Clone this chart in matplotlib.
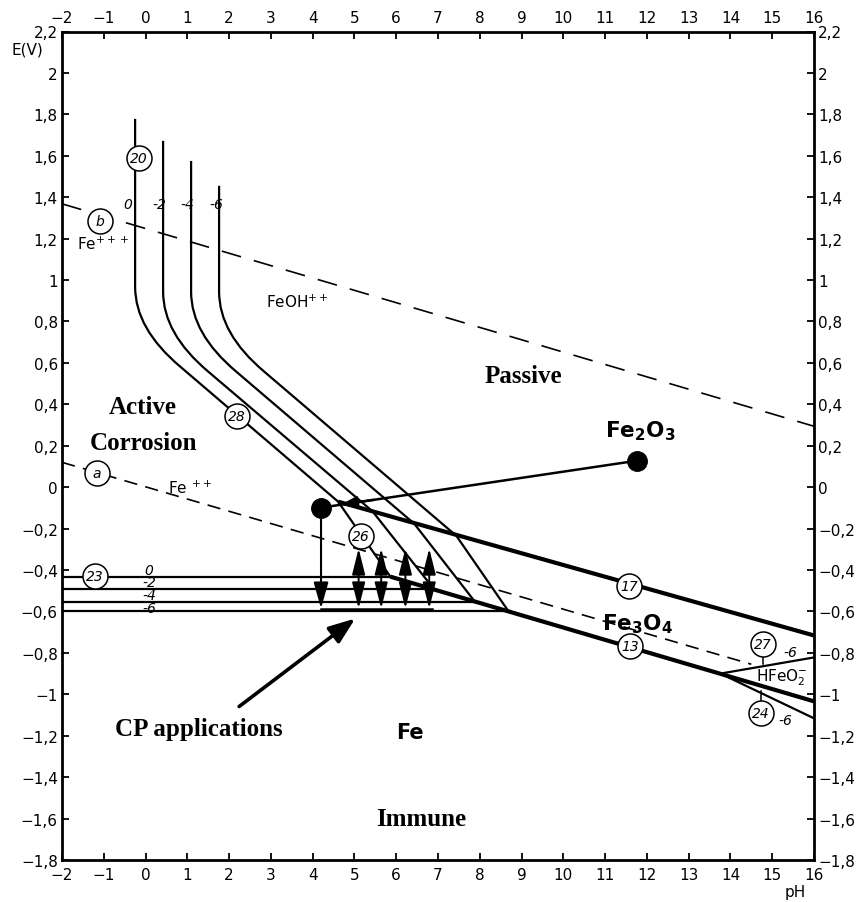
import matplotlib
matplotlib.use("Agg")
import matplotlib.pyplot as plt
from matplotlib.path import Path
from matplotlib.patches import PathPatch
from matplotlib.ticker import FixedLocator, FuncFormatter

plt.rcParams["font.family"] = ["DejaVu Sans"]
plt.rcParams["mathtext.fontset"] = "dejavusans"

# ---------------- data ----------------
PH_TICKS = [-2, -1, 0, 1, 2, 3, 4, 5, 6, 7, 8, 9, 10, 11, 12, 13, 14, 15, 16]
E_TICKS = [-1.8, -1.6, -1.4, -1.2, -1.0, -0.8, -0.6, -0.4, -0.2, 0.0,
           0.2, 0.4, 0.6, 0.8, 1.0, 1.2, 1.4, 1.6, 1.8, 2.0, 2.2]

# log concentration of dissolved iron for each family of curves
conc_labels = ["0", "-2", "-4", "-6"]

# line 20 (vertical part) then line 28 / 26 down to the Fe / Fe++ / Fe3O4 point
vert_ph = [-0.25, 0.42, 1.09, 1.76]
top_e = [1.778, 1.672, 1.575, 1.455]
bend_start_e = [0.967, 0.943, 0.943, 0.943]
corner_e = [0.765, 0.741, 0.741, 0.741]
bend_end_ph = [0.83, 1.50, 2.17, 2.84]
bend_end_e = [0.582, 0.558, 0.558, 0.558]
junction_ph = [4.61, 5.43, 6.43, 7.44]
junction_e = [-0.070, -0.116, -0.176, -0.235]
triple_ph = [5.86, 6.91, 7.88, 8.69]
triple_e = [-0.432, -0.494, -0.552, -0.600]

# line 23 : Fe / Fe++ (horizontal)
line23_e = [-0.432, -0.494, -0.552, -0.600]

# water lines a and b
line_a_ph = [-2.0, 14.5]
line_a_e = [0.12, -0.855]
line_b_ph = [-2.0, 16.0]
line_b_e = [1.368, 0.294]

# line 17 : Fe3O4 / Fe2O3, line 13 : Fe / Fe3O4
line17_ph = [4.61, 16.0]
line17_e = [-0.070, -0.716]
line13_ph = [5.86, 16.0]
line13_e = [-0.432, -1.034]
# lines 27 and 24 (HFeO2-, 10^-6)
line27_ph = [13.76, 16.0]
line27_e = [-0.900, -0.822]
line24_ph = [13.76, 16.0]
line24_e = [-0.900, -1.116]

# state points and cathodic protection arrows
fe2o3_pt = (11.77, 0.128)
fe_pt = (4.20, -0.099)
cp_level = -0.586
cp_bracket_end = 6.86
cp_arrow_ph = [5.10, 5.64, 6.22, 6.79]
cp_arrow_top = -0.296

# numbered circles on the lines
circ_names = ["20", "b", "28", "a", "23", "26", "17", "13", "27", "24"]
circ_ph = [-0.16, -1.09, 2.19, -1.16, -1.21, 5.16, 11.58, 11.60, 14.77, 14.72]
circ_e = [1.59, 1.286, 0.345, 0.070, -0.431, -0.234, -0.475, -0.769, -0.755, -1.092]

# ---------------- figure ----------------
fig = plt.figure(figsize=(8.59, 9.03), dpi=100)
ax = fig.add_axes([62 / 859, 42 / 903, 752 / 859, 828.5 / 903])
ax.set_xlim(-2, 16)
ax.set_ylim(-1.8, 2.2)

for sp in ax.spines.values():
    sp.set_linewidth(2.0)


def efmt(v, _):
    if abs(v) < 1e-9:
        return "0"
    s = f"{v:.1f}".rstrip("0").rstrip(".")
    return s.replace(".", ",").replace("-", "\u2212")


def phfmt(v, _):
    return f"{int(round(v))}".replace("-", "\u2212")


ax.xaxis.set_major_locator(FixedLocator(PH_TICKS))
ax.yaxis.set_major_locator(FixedLocator(E_TICKS))
ax.xaxis.set_major_formatter(FuncFormatter(phfmt))
ax.yaxis.set_major_formatter(FuncFormatter(efmt))
ax.tick_params(axis="both", direction="in", length=5, width=1.3,
               labelsize=11, top=True, right=True,
               labeltop=True, labelright=True)
ax.tick_params(axis="x", pad=5)
ax.tick_params(axis="y", pad=3)

# concentration curves (20 -> 28 -> 26)
for i in range(4):
    verts = [
        (vert_ph[i], top_e[i]),
        (vert_ph[i], bend_start_e[i]),
        (vert_ph[i], corner_e[i]),
        (bend_end_ph[i], bend_end_e[i]),
        (junction_ph[i], junction_e[i]),
        (triple_ph[i], triple_e[i]),
    ]
    codes = [Path.MOVETO, Path.LINETO, Path.CURVE3, Path.CURVE3,
             Path.LINETO, Path.LINETO]
    ax.add_patch(PathPatch(Path(verts, codes), fill=False, lw=1.6,
                           edgecolor="black", zorder=3))
    # line 23
    ax.plot([-2, triple_ph[i]], [line23_e[i], line23_e[i]], color="black",
            lw=1.6, zorder=3)

# dashed water lines
ax.plot(line_a_ph, line_a_e, color="black", lw=1.2, dashes=(8, 5), zorder=2)
ax.plot(line_b_ph, line_b_e, color="black", lw=1.2, dashes=(12, 8), zorder=2)

# oxide boundaries
ax.plot(line17_ph, line17_e, color="black", lw=3.0, zorder=3,
        solid_capstyle="butt")
ax.plot(line13_ph, line13_e, color="black", lw=3.0, zorder=3,
        solid_capstyle="butt")
ax.plot(line27_ph, line27_e, color="black", lw=1.6, zorder=3)
ax.plot(line24_ph, line24_e, color="black", lw=1.6, zorder=3)

# state points
ax.plot([fe2o3_pt[0], fe_pt[0]], [fe2o3_pt[1], fe_pt[1]], color="black",
        lw=1.8, zorder=4)
ax.plot(*fe2o3_pt, "o", color="black", ms=14, zorder=6)
ax.plot(*fe_pt, "o", color="black", ms=14, zorder=6)
slope = (fe2o3_pt[1] - fe_pt[1]) / (fe2o3_pt[0] - fe_pt[0])
tip = 4.66
ax.annotate("", xy=(tip, fe_pt[1] + slope * (tip - fe_pt[0])),
            xytext=(tip + 0.8, fe_pt[1] + slope * (tip + 0.8 - fe_pt[0])),
            arrowprops=dict(arrowstyle="-|>,head_length=1.0,head_width=0.35",
                            lw=1.8, color="black", shrinkA=0, shrinkB=0,
                            mutation_scale=10), zorder=5)

# cathodic protection: polarisation down to the immune region
ax.annotate("", xy=(fe_pt[0], cp_level), xytext=fe_pt,
            arrowprops=dict(arrowstyle="-|>,head_length=1.6,head_width=0.45",
                            lw=1.5, color="black", shrinkA=0, shrinkB=0,
                            mutation_scale=10), zorder=5)
ax.plot([fe_pt[0], cp_bracket_end], [cp_level, cp_level], color="black",
        lw=1.8, zorder=4)
for x in cp_arrow_ph:
    ax.annotate("", xy=(x, cp_arrow_top), xytext=(x, cp_level),
                arrowprops=dict(arrowstyle="<|-|>,head_length=1.6,head_width=0.4",
                                lw=1.4, color="black", shrinkA=0, shrinkB=0,
                                mutation_scale=10), zorder=5)

ax.annotate("", xy=(5.02, -0.634), xytext=(2.24, -1.059),
            arrowprops=dict(arrowstyle="-|>,head_length=1.6,head_width=0.6",
                            lw=2.6, color="black", shrinkA=0, shrinkB=0,
                            mutation_scale=10), zorder=5)

# numbered circles
for name, x, y in zip(circ_names, circ_ph, circ_e):
    ax.plot(x, y, "o", ms=18, mfc="white", mec="black", mew=1.1, zorder=7)
    ax.text(x, y, name, ha="center", va="center", fontsize=10,
            style="italic", zorder=8)
# leader stems for 27 and 24
ax.plot([14.77, 14.77], [-0.810, -0.855], color="black", lw=1.1, zorder=6)
ax.plot([14.72, 14.72], [-1.035, -0.985], color="black", lw=1.1, zorder=6)

# concentration labels
for lab, x in zip(conc_labels, [-0.42, 0.32, 0.99, 1.69]):
    ax.text(x, 1.368, lab, ha="center", va="center", fontsize=10,
            style="italic")
for lab, y in zip(conc_labels, [-0.398, -0.458, -0.522, -0.583]):
    ax.text(0.08, y, lab, ha="center", va="center", fontsize=10,
            style="italic", zorder=4)
ax.text(15.44, -0.794, "-6", ha="center", va="center", fontsize=10,
        style="italic")
ax.text(15.32, -1.126, "-6", ha="center", va="center", fontsize=10,
        style="italic")

# species
ax.text(-1.02, 1.175, r"Fe$^{+++}$", ha="center", va="center", fontsize=11)
ax.text(1.07, 0.00, r"Fe $^{++}$", ha="center", va="center", fontsize=11)
ax.text(3.63, 0.895, r"FeOH$^{++}$", ha="center", va="center", fontsize=11)
ax.text(15.22, -0.914, r"HFeO$_2^{-}$", ha="center", va="center", fontsize=11)
ax.text(11.84, 0.273, r"$\mathbf{Fe_2O_3}$", ha="center", va="center",
        fontsize=15.5)
ax.text(11.77, -0.658, r"$\mathbf{Fe_3O_4}$", ha="center", va="center",
        fontsize=15.5)
ax.text(6.34, -1.18, "Fe", ha="center", va="center", fontsize=15,
        fontweight="bold")

# regions
serif = dict(family="Liberation Serif", fontweight="bold", fontsize=18,
             ha="center", va="center")
ax.text(-0.06, 0.389, "Active", **serif)
ax.text(-0.06, 0.215, "Corrosion", **serif)
ax.text(9.04, 0.538, "Passive", **serif)
ax.text(1.28, -1.165, "CP applications", **serif)
ax.text(6.60, -1.600, "Immune", **serif)

# axis titles
fig.text(27 / 859, 1 - 50 / 903, "E(V)", ha="center", va="center",
         fontsize=11)
fig.text(795 / 859, 1 - 893 / 903, "pH", ha="center", va="center",
         fontsize=11)

fig.savefig("out.png", dpi=100)
